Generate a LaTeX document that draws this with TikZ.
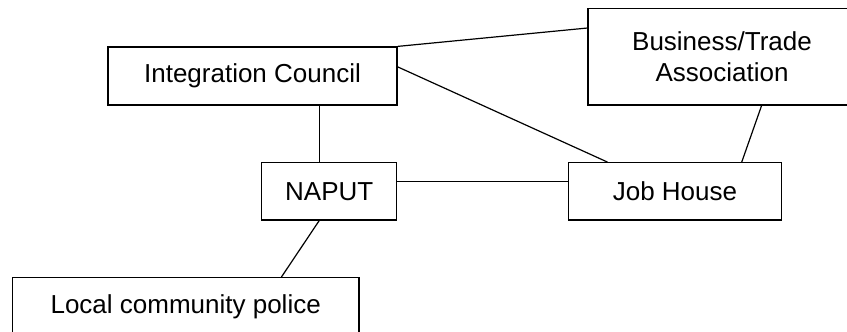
\documentclass[tikz,border=0pt]{standalone}
\usepackage{fontspec}
\setmainfont{Liberation Sans}
\usetikzlibrary{calc}
\begin{document}
\begin{tikzpicture}[x=1pt,y=-1pt,
  box/.style={draw,line width=1.2pt,inner sep=0pt,align=center,
    font=\fontsize{26}{31.5}\selectfont},
  link/.style={line width=1.2pt}]
\useasboundingbox (0,0) rectangle (847,332);
\clip (0,0) rectangle (847,332);
\node[box,minimum width=289pt,minimum height=58pt] (ic) at (252.5,76) {Integration Council};
\node[box,minimum width=268pt,minimum height=96.7pt] (bta) at (722,56.7) {Business/Trade\\Association};
\node[box,minimum width=135pt,minimum height=57.3pt] (naput) at (329.2,191.3) {NAPUT};
\node[box,minimum width=213.4pt,minimum height=57.3pt] (jh) at (675,191.3) {Job House};
\node[box,minimum width=346.7pt,minimum height=58pt] (lcp) at (185.7,306.7) {Local community police};
\coordinate (icup) at ($(naput.north west)!0.427!(naput.north east)$);
\draw[link] (ic.north east) -- ($(bta.north west)!0.207!(bta.south west)$);
\draw[link] ($(ic.north east)!0.345!(ic.south east)$) -- ($(jh.north west)!0.185!(jh.north east)$);
\draw[link] (icup |- ic.south) -- (icup);
\draw[link] ($(naput.north east)!0.33!(naput.south east)$) -- ($(jh.north west)!0.33!(jh.south west)$);
\draw[link] ($(bta.south west)!0.647!(bta.south east)$) -- ($(jh.north west)!0.811!(jh.north east)$);
\draw[link] ($(naput.south west)!0.427!(naput.south east)$) -- ($(lcp.north west)!0.775!(lcp.north east)$);
\end{tikzpicture}
\end{document}
